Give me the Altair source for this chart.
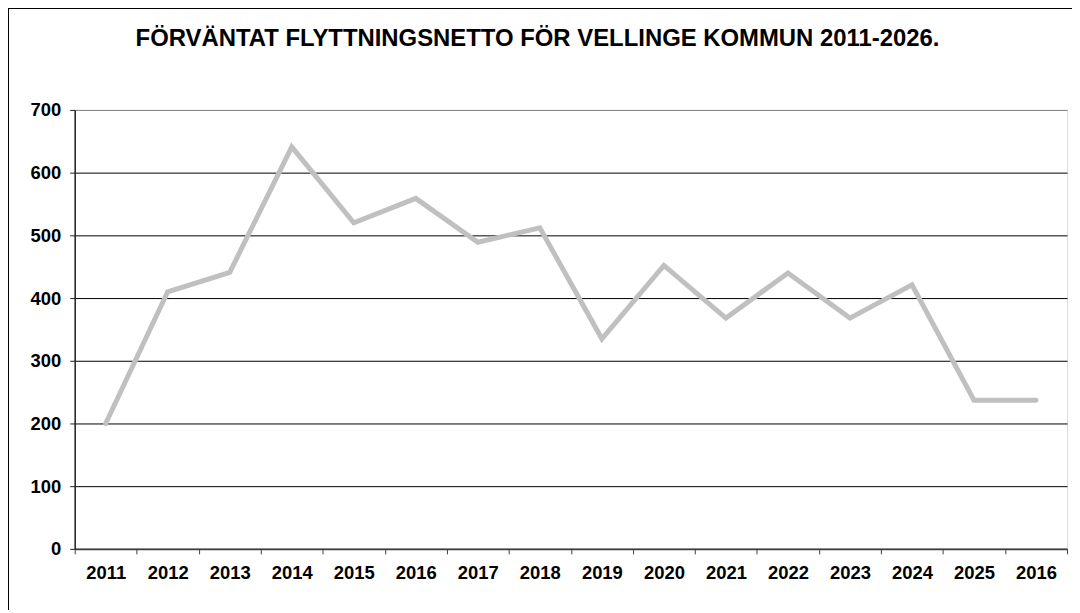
import altair as alt
import pandas as pd

years = ["2011", "2012", "2013", "2014", "2015", "2016", "2017", "2018",
         "2019", "2020", "2021", "2022", "2023", "2024", "2025", "2026"]
tick_labels = ["2011", "2012", "2013", "2014", "2015", "2016", "2017", "2018",
               "2019", "2020", "2021", "2022", "2023", "2024", "2025", "2016"]
values = [200, 410, 441, 641, 520, 559, 489, 512, 335, 452, 368, 440, 368, 421, 237, 237]
y_ticks = [0, 100, 200, 300, 400, 500, 600, 700]
title_text = "FÖRVÄNTAT FLYTTNINGSNETTO FÖR VELLINGE KOMMUN 2011-2026."

df = pd.DataFrame({"year": years, "value": values})
title_df = pd.DataFrame({"t": [title_text]})

label_expr = "datum.value"
for y, lab in zip(years, tick_labels):
    if y != lab:
        label_expr = f"datum.value == '{y}' ? '{lab}' : ({label_expr})"

FONT = "Liberation Sans"

line = alt.Chart(df).mark_line(
    color="#c0c0c0", strokeWidth=5, strokeCap="round", strokeJoin="miter"
).encode(
    x=alt.X("year:N", sort=years, bandPosition=0.5,
            scale=alt.Scale(type="band", paddingInner=0, paddingOuter=0),
            axis=alt.Axis(title=None, labelExpr=label_expr, labelAngle=0,
                          tickBand="extent", tickSize=5, labelPadding=10,
                          labelFont=FONT, labelFontSize=18.5, labelFontWeight="bold",
                          labelColor="#000", domainColor="#404040", domainWidth=2,
                          tickColor="#404040", grid=False)),
    y=alt.Y("value:Q", scale=alt.Scale(domain=[0, 700], nice=False),
            axis=alt.Axis(title=None, values=y_ticks, tickSize=5, labelPadding=9,
                          labelFont=FONT, labelFontSize=18.5, labelFontWeight="bold",
                          labelColor="#000", domainColor="#202020", domainWidth=1.5,
                          tickColor="#202020", grid=True,
                          gridColor={"condition": {"test": "datum.value == 700", "value": "#808080"},
                                     "value": "#000000"},
                          gridWidth=1)),
)

title = alt.Chart(title_df).mark_text(
    font=FONT, fontSize=24, fontWeight="bold", color="#000",
    align="center", baseline="alphabetic", clip=False
).encode(text="t:N", x=alt.value(465), y=alt.value(-64))

frame_left = alt.Chart(df).mark_rule(color="#000", strokeWidth=1.5, clip=False).encode(
    x=alt.value(-67.5), y=alt.value(-102.5), y2=alt.value(520)
)
frame_top = alt.Chart(df).mark_rule(color="#000", strokeWidth=1.5, clip=False).encode(
    x=alt.value(-67.5), x2=alt.value(1100), y=alt.value(-102.5)
)

chart = alt.layer(frame_left, frame_top, title, line).properties(
    width=997, height=441,
    autosize=alt.AutoSizeParams(type="none"),
    padding={"left": 67, "top": 101, "right": 5, "bottom": 60},
).configure_view(stroke="#808080", strokeWidth=1.5).configure(background="white")

chart.save("out.html", embed_options={"renderer": "svg", "actions": False})
